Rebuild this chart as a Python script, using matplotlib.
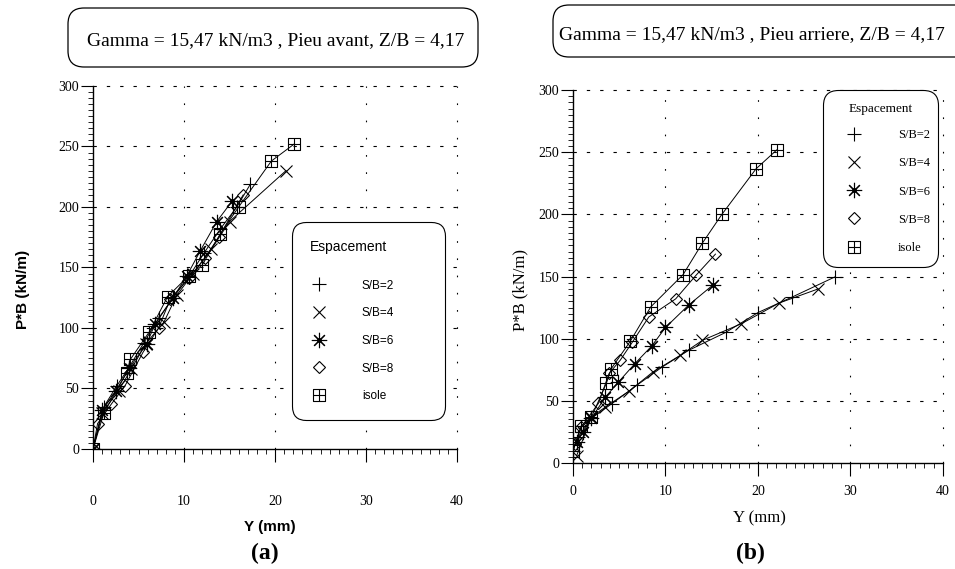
import matplotlib
matplotlib.use('Agg')
import matplotlib.pyplot as plt
from matplotlib.path import Path
from matplotlib.patches import FancyBboxPatch
from matplotlib.lines import Line2D
from matplotlib.ticker import MultipleLocator

# ---------------- data ----------------
series_labels = ['S/B=2', 'S/B=4', 'S/B=6', 'S/B=8', 'isole']
legend_title = 'Espacement'
title_a = 'Gamma = 15,47 kN/m3 , Pieu avant, Z/B = 4,17'
title_b = 'Gamma = 15,47 kN/m3 , Pieu arriere, Z/B = 4,17'
x_label = 'Y (mm)'
y_label = 'P*B (kN/m)'
panel_labels = ['(a)', '(b)']
x_ticks = [0, 10, 20, 30, 40]
y_ticks = [0, 50, 100, 150, 200, 250, 300]

# (a) Pieu avant
a_sb2_x = [0, 1.2, 2.6, 4.0, 5.6, 7.2, 8.8, 10.5, 12.2, 14.0, 15.8, 17.3]
a_sb2_y = [0, 35, 52, 68, 88, 108, 125, 142, 162, 182, 200, 219]
a_sb4_x = [0, 1.0, 2.8, 4.2, 5.8, 7.8, 9.2, 11.0, 13.0, 15.0, 21.2]
a_sb4_y = [0, 30, 48, 66, 87, 105, 127, 145, 165, 188, 230]
a_sb6_x = [0, 1.0, 2.5, 4.0, 5.9, 6.8, 8.8, 10.3, 11.8, 13.6, 15.3]
a_sb6_y = [0, 32, 48, 67, 87, 103, 125, 143, 164, 188, 205]
a_sb8_x = [0, 0.5, 2.0, 3.5, 5.5, 7.2, 8.5, 10.5, 12.3, 13.8, 16.5]
a_sb8_y = [0, 21, 37, 52, 80, 100, 124, 141, 158, 175, 210]
a_iso_x = [0, 1.2, 3.7, 4.1, 6.2, 8.2, 10.5, 12.0, 14.0, 16.0, 19.6, 22.1]
a_iso_y = [0, 30, 63, 74, 97, 126, 143, 152, 178, 200, 238, 252]

# (b) Pieu arriere
b_sb2_x = [0, 0.55, 2.0, 4.2, 6.9, 9.6, 12.5, 16.5, 20.0, 23.7, 28.3]
b_sb2_y = [10, 21, 36, 47.7, 62.5, 77, 90.6, 105, 121, 133.5, 149.6]
b_sb4_x = [0.4, 2.0, 3.5, 6.1, 8.6, 11.6, 14.0, 18.2, 22.3, 26.5]
b_sb4_y = [6, 37, 45, 58, 73, 86.6, 98.7, 112, 128.7, 140]
b_sb6_x = [0.4, 1.1, 2.0, 3.5, 4.9, 6.7, 8.5, 10.0, 12.5, 15.1]
b_sb6_y = [17, 25, 36, 53, 65, 80, 94, 109, 127, 143]
b_sb8_x = [0.2, 0.9, 2.75, 3.9, 5.1, 6.4, 8.2, 11.1, 13.3, 15.4]
b_sb8_y = [15, 29, 48, 72, 82.6, 97, 117.5, 132, 151, 168]
b_iso_x = [0, 0.9, 2.0, 3.6, 4.15, 6.2, 8.4, 11.9, 14.0, 16.1, 19.8, 22.06]
b_iso_y = [10, 30, 37, 64, 76, 98, 125.5, 151.5, 177, 200, 236.7, 252]

# ---------------- style ----------------
SERIF = ['Liberation Serif', 'DejaVu Serif']
SANS = ['Liberation Sans', 'DejaVu Sans']

sq_verts = [(-1, -1), (1, -1), (1, 1), (-1, 1), (-1, -1),
            (0, -1), (0, 1), (-1, 0), (1, 0)]
sq_codes = [Path.MOVETO, Path.LINETO, Path.LINETO, Path.LINETO, Path.CLOSEPOLY,
            Path.MOVETO, Path.LINETO, Path.MOVETO, Path.LINETO]
box_cross = Path(sq_verts, sq_codes)

marker_styles = [
    dict(marker='+', ms=10, mew=0.8),
    dict(marker='x', ms=9, mew=0.8),
    dict(marker=(8, 2, 0), ms=11, mew=0.8),
    dict(marker='D', ms=6.5, mew=0.8, mfc='none'),
    dict(marker=box_cross, ms=9, mew=0.8, mfc='none'),
]

fig = plt.figure(figsize=(9.55, 5.69), dpi=100)

axA = fig.add_axes([0.0974, 0.2109, 0.3812, 0.6380])
axB = fig.add_axes([0.6000, 0.1863, 0.3874, 0.6555])

data_a = [(a_sb2_x, a_sb2_y), (a_sb4_x, a_sb4_y), (a_sb6_x, a_sb6_y),
          (a_sb8_x, a_sb8_y), (a_iso_x, a_iso_y)]
data_b = [(b_sb2_x, b_sb2_y), (b_sb4_x, b_sb4_y), (b_sb6_x, b_sb6_y),
          (b_sb8_x, b_sb8_y), (b_iso_x, b_iso_y)]


def draw_panel(ax, data, xpad):
    for (xs, ys), st in zip(data, marker_styles):
        ax.plot(xs, ys, color='black', lw=0.7, mec='black', **st)
    # dot at the centre of the asterisks
    ax.plot(data[2][0], data[2][1], ls='none', marker='o', ms=2.5,
            color='black')
    ax.set_xlim(0, 40)
    ax.set_ylim(0, 300)
    ax.set_xticks(x_ticks)
    ax.set_yticks(y_ticks)
    ax.xaxis.set_minor_locator(MultipleLocator(1))
    ax.yaxis.set_minor_locator(MultipleLocator(5))
    for s in ['top', 'right']:
        ax.spines[s].set_visible(False)
    for s in ['left', 'bottom']:
        ax.spines[s].set_linewidth(1.0)
    ax.tick_params(which='major', direction='out', length=9, width=0.8)
    ax.tick_params(which='minor', direction='out', length=3.5, width=0.6)
    ax.tick_params(axis='x', which='major', pad=xpad)
    ax.tick_params(axis='y', which='major', pad=1)
    for t in ax.get_xticklabels() + ax.get_yticklabels():
        t.set_fontfamily(SERIF)
        t.set_fontsize(10)
    for y in y_ticks[1:]:
        ax.axhline(y, color='black', lw=0.8, ls=(0, (3, 9)), clip_on=False)
    for x in x_ticks[1:]:
        ax.axvline(x, color='black', lw=0.8, ls=(0, (1.5, 14)), clip_on=False)
    ax.set_facecolor('white')


draw_panel(axA, data_a, 24)
draw_panel(axB, data_b, 7)

# axis labels
axA.set_xlabel(x_label, fontfamily=SANS, fontsize=11, fontweight='bold')
axA.xaxis.set_label_coords(0.486, -0.196)
axA.set_ylabel(y_label, fontfamily=SANS, fontsize=11, fontweight='bold')
axA.yaxis.set_label_coords(-0.173, 0.44)
axB.set_xlabel(x_label, fontfamily=SERIF, fontsize=12)
axB.xaxis.set_label_coords(0.505, -0.126)
axB.set_ylabel(y_label, fontfamily=SERIF, fontsize=12)
axB.yaxis.set_label_coords(-0.121, 0.464)


def proxies():
    hs = []
    for i, st in enumerate(marker_styles):
        h = Line2D([], [], ls='none', color='black', mec='black', **st)
        if i == 2:
            dot = Line2D([], [], ls='none', marker='o', ms=2.5, color='black')
            h = (h, dot)
        hs.append(h)
    return hs


legA = axA.legend(proxies(), series_labels, loc='upper left',
                  bbox_to_anchor=(0.547, 0.625, 0.420, 0.0), mode='expand',
                  borderaxespad=0, alignment='left',
                  title=legend_title, prop=dict(family=SANS, size=8.5),
                  title_fontproperties=dict(family=SANS, size=10),
                  labelspacing=1.33, handletextpad=2.9, borderpad=1.5,
                  handlelength=1.5, fancybox=True, framealpha=1,
                  edgecolor='black')
legA.get_frame().set_boxstyle('round,pad=0,rounding_size=1.2')
legA.get_frame().set_linewidth(0.8)
legA._legend_box.sep = 18.5

legB = axB.legend(proxies(), series_labels, loc='upper left',
                  bbox_to_anchor=(0.676, 1.0, 0.311, 0.0), mode='expand',
                  borderaxespad=0,
                  title=legend_title, prop=dict(family=SERIF, size=9),
                  title_fontproperties=dict(family=SERIF, size=9.5),
                  labelspacing=1.3, handletextpad=2.0, borderpad=1.0,
                  handlelength=3.0, fancybox=True, framealpha=1,
                  edgecolor='black')
legB.get_frame().set_boxstyle('round,pad=0,rounding_size=1.2')
legB.get_frame().set_linewidth(0.8)
legB._legend_box.sep = 10.5

# title boxes (inches)
boxA = FancyBboxPatch((0.68, 5.02), 4.10, 0.59,
                      boxstyle='round,pad=0,rounding_size=0.16',
                      transform=fig.dpi_scale_trans, fc='white', ec='black',
                      lw=0.9)
boxB = FancyBboxPatch((5.53, 5.12), 4.25, 0.52,
                      boxstyle='round,pad=0,rounding_size=0.16',
                      transform=fig.dpi_scale_trans, fc='white', ec='black',
                      lw=0.9)
fig.add_artist(boxA)
fig.add_artist(boxB)
fig.text(276 / 955, 1 - 41 / 569, title_a, ha='center', va='center',
         fontfamily=SERIF, fontsize=14)
fig.text(752 / 955, 1 - 35 / 569, title_b, ha='center', va='center',
         fontfamily=SERIF, fontsize=14)

fig.text(265 / 955, 1 - 553 / 569, panel_labels[0], ha='center', va='center',
         fontfamily=SERIF, fontsize=17, fontweight='bold')
fig.text(750 / 955, 1 - 553 / 569, panel_labels[1], ha='center', va='center',
         fontfamily=SERIF, fontsize=17, fontweight='bold')

fig.savefig('out.png', dpi=100, facecolor='white')
